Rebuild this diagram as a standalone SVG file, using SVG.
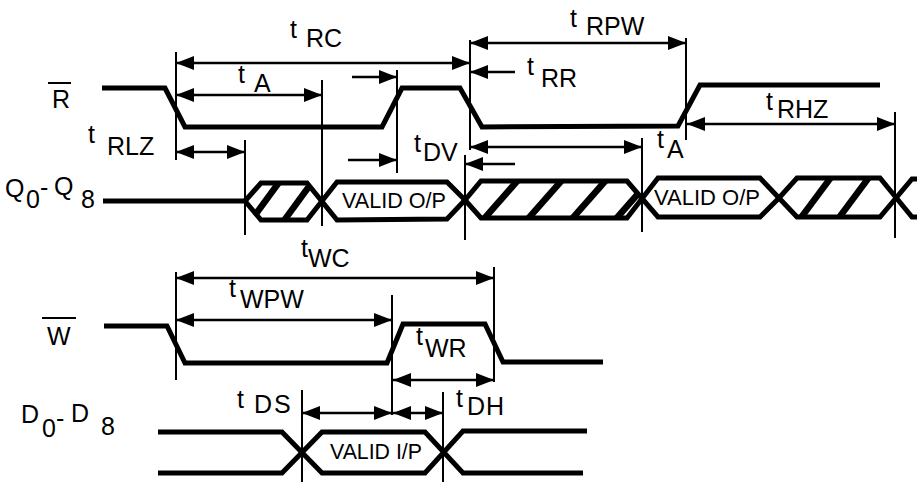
<svg xmlns="http://www.w3.org/2000/svg" width="917" height="482" viewBox="0 0 917 482">
<style>
.sig{fill:none;stroke:#000;stroke-width:5;stroke-linejoin:miter;stroke-linecap:butt}
.ref{stroke:#000;stroke-width:2;fill:none}
.arr{stroke:#000;stroke-width:2.6;fill:none}
.lb{font-family:"Liberation Sans",Arial,Helvetica,sans-serif;font-size:25px;fill:#000}
.vl{font-family:"Liberation Sans",Arial,Helvetica,sans-serif;font-size:22px;fill:#000}
.hatch{stroke:#000;stroke-width:6.5;fill:none}
</style>
<defs>
<marker id="ah" markerUnits="userSpaceOnUse" markerWidth="18" markerHeight="14" refX="18" refY="7" orient="auto-start-reverse">
<path d="M0,0 L18,7 L0,14 z" fill="#000"/>
</marker>
<clipPath id="c1"><path d="M245,201 L261,183 L307,183 L322,201 L307,220 L261,220 Z"/></clipPath>
<clipPath id="c3"><path d="M465,200 L481,181 L627,181 L642,199 L627,218 L481,218 Z"/></clipPath>
<clipPath id="c5"><path d="M779,198 L797,178 L880,178 L896,198 L880,217 L797,217 Z"/></clipPath>
</defs>
<rect width="917" height="482" fill="#fff"/>

<g id="signal-R">
<line class="ref" x1="48" y1="83" x2="71" y2="83"/>
<text class="lb" x="52" y="108">R</text>
<path class="sig" d="M102,88 L165,88 L185,127 L382,127 L402,88 L460,88 L482,127 L678,126 L700,85 L880,85"/>
</g>

<g id="signal-Q">
<text class="lb" x="5" y="197">Q</text>
<text class="lb" x="26" y="208" font-size="22">0</text>
<text class="lb" x="40" y="196">-</text>
<text class="lb" x="54" y="195">Q</text>
<text class="lb" x="81" y="208">8</text>
<path class="sig" d="M103,201 L245,201"/>
<g clip-path="url(#c1)">
<line class="hatch" x1="250" y1="222" x2="280" y2="181"/>
<line class="hatch" x1="283" y1="222" x2="313" y2="181"/>
</g>
<path class="sig" d="M245,201 L261,183 L307,183 L337,220 L447,219 L465,200 L481,181 L627,181 L658,217 L760,217 L779,198 L797,178 L880,178 L912,217 L917,217"/>
<path class="sig" d="M245,201 L261,220 L307,220 L337,182 L447,182 L465,200 L481,218 L627,218 L658,178 L760,178 L779,198 L797,217 L880,217 L912,179 L917,179"/>
<g clip-path="url(#c3)">
<line class="hatch" x1="483" y1="220" x2="519" y2="179"/>
<line class="hatch" x1="527" y1="220" x2="563" y2="179"/>
<line class="hatch" x1="571" y1="220" x2="607" y2="179"/>
<line class="hatch" x1="615" y1="220" x2="651" y2="179"/>
</g>
<g clip-path="url(#c5)">
<line class="hatch" x1="800" y1="219" x2="832" y2="176"/>
<line class="hatch" x1="838" y1="219" x2="870" y2="176"/>
</g>
<text class="vl" x="394" y="208" text-anchor="middle" textLength="104" lengthAdjust="spacingAndGlyphs">VALID O/P</text>
<text class="vl" x="707" y="205" text-anchor="middle" textLength="106" lengthAdjust="spacingAndGlyphs">VALID O/P</text>
</g>

<g id="signal-W">
<line class="ref" x1="42" y1="318" x2="76" y2="318"/>
<text class="lb" x="47" y="345">W</text>
<path class="sig" d="M104,326 L167,326 L185,363 L387,363 L403,324 L485,324 L503,362 L603,362"/>
</g>

<g id="signal-D">
<text class="lb" x="21" y="423">D</text>
<text class="lb" x="42" y="437" font-size="22">0</text>
<text class="lb" x="56" y="427">-</text>
<text class="lb" x="71" y="422">D</text>
<text class="lb" x="101" y="435">8</text>
<path class="sig" d="M158,432 L282,432 L322,473 L425,473 L463,431 L587,431"/>
<path class="sig" d="M158,473 L282,473 L322,432 L425,432 L463,473 L583,473"/>
<text class="vl" x="376" y="459" text-anchor="middle" textLength="92" lengthAdjust="spacingAndGlyphs">VALID I/P</text>
</g>

<g id="references">
<line class="ref" x1="176" y1="52" x2="176" y2="160"/>
<line class="ref" x1="322" y1="80" x2="322" y2="226"/>
<line class="ref" x1="245" y1="140" x2="245" y2="235"/>
<line class="ref" x1="397" y1="70" x2="397" y2="173"/>
<line class="ref" x1="470" y1="40" x2="470" y2="150"/>
<line class="ref" x1="465" y1="155" x2="465" y2="240"/>
<line class="ref" x1="642" y1="138" x2="642" y2="232"/>
<line class="ref" x1="686" y1="38" x2="686" y2="140"/>
<line class="ref" x1="895" y1="112" x2="895" y2="238"/>
<line class="ref" x1="176" y1="272" x2="176" y2="380"/>
<line class="ref" x1="392" y1="295" x2="392" y2="415"/>
<line class="ref" x1="494" y1="267" x2="494" y2="382"/>
<line class="ref" x1="302" y1="390" x2="302" y2="482"/>
<line class="ref" x1="443" y1="392" x2="443" y2="482"/>
</g>

<g id="connectors">
<line class="arr" x1="176" y1="63" x2="470" y2="63" marker-start="url(#ah)" marker-end="url(#ah)"/>
<line class="arr" x1="176" y1="95" x2="322" y2="95" marker-start="url(#ah)" marker-end="url(#ah)"/>
<line class="arr" x1="176" y1="152" x2="245" y2="152" marker-start="url(#ah)" marker-end="url(#ah)"/>
<line class="arr" x1="470" y1="43" x2="686" y2="43" marker-start="url(#ah)" marker-end="url(#ah)"/>
<line class="arr" x1="352" y1="77" x2="397" y2="77" marker-end="url(#ah)"/>
<line class="arr" x1="515" y1="72" x2="470" y2="72" marker-end="url(#ah)"/>
<line class="arr" x1="348" y1="160" x2="397" y2="160" marker-end="url(#ah)"/>
<line class="arr" x1="515" y1="164" x2="465" y2="164" marker-end="url(#ah)"/>
<line class="arr" x1="470" y1="147" x2="642" y2="147" marker-start="url(#ah)" marker-end="url(#ah)"/>
<line class="arr" x1="687" y1="124" x2="895" y2="124" marker-start="url(#ah)" marker-end="url(#ah)"/>
<line class="arr" x1="176" y1="278" x2="494" y2="278" marker-start="url(#ah)" marker-end="url(#ah)"/>
<line class="arr" x1="176" y1="320" x2="392" y2="320" marker-start="url(#ah)" marker-end="url(#ah)"/>
<line class="arr" x1="393" y1="380" x2="494" y2="380" marker-start="url(#ah)" marker-end="url(#ah)"/>
<line class="arr" x1="302" y1="413" x2="392" y2="413" marker-start="url(#ah)" marker-end="url(#ah)"/>
<line class="arr" x1="393" y1="413" x2="443" y2="413" marker-start="url(#ah)" marker-end="url(#ah)"/>
</g>

<g id="labels">
<text class="lb" x="290" y="38">t</text><text class="lb" x="306" y="47">RC</text>
<text class="lb" x="238" y="83">t</text><text class="lb" x="254" y="92">A</text>
<text class="lb" x="88" y="143">t</text><text class="lb" x="107" y="155">RLZ</text>
<text class="lb" x="570" y="27">t</text><text class="lb" x="586" y="35">RPW</text>
<text class="lb" x="527" y="75">t</text><text class="lb" x="541" y="87">RR</text>
<text class="lb" x="414" y="152">t</text><text class="lb" x="423" y="161">DV</text>
<text class="lb" x="657" y="148">t</text><text class="lb" x="667" y="158">A</text>
<text class="lb" x="766" y="110">t</text><text class="lb" x="777" y="118">RHZ</text>
<text class="lb" x="301" y="257">t</text><text class="lb" x="308" y="267">WC</text>
<text class="lb" x="229" y="297">t</text><text class="lb" x="240" y="308">WPW</text>
<text class="lb" x="416" y="345">t</text><text class="lb" x="425" y="357">WR</text>
<text class="lb" x="237" y="408">t</text><text class="lb" x="254" y="413" letter-spacing="2">DS</text>
<text class="lb" x="456" y="407">t</text><text class="lb" x="467" y="415" letter-spacing="1">DH</text>
</g>
</svg>
